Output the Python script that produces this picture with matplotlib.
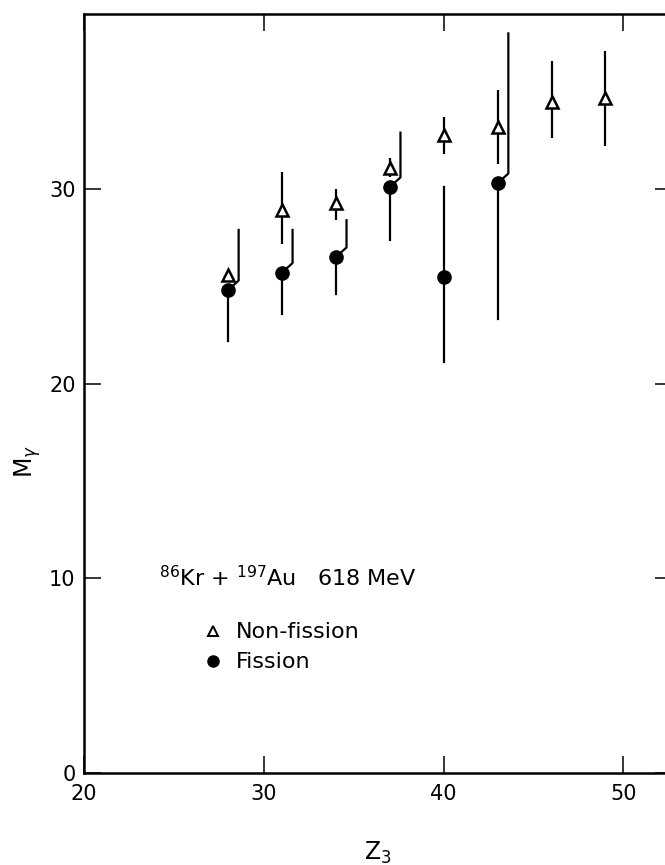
import matplotlib
matplotlib.use('Agg')
import matplotlib.pyplot as plt
from matplotlib.lines import Line2D

##--------------------##
## Data
##--------------------##

# Non-fission (open triangles)
z_nf = [28, 31, 34, 37, 40, 43, 46, 49]
nf_m = [25.6, 28.9, 29.3, 31.1, 32.8, 33.2, 34.5, 34.7]
nf_lo = [25.6, 27.2, 28.4, 30.6, 31.8, 31.3, 32.6, 32.2]
nf_hi = [25.6, 30.9, 30.0, 31.6, 33.7, 35.1, 36.6, 37.1]

# Fission (filled circles); upper bar drawn shifted right where flagged
z_fis = [28, 31, 34, 37, 40, 43]
fis_m = [24.8, 25.7, 26.5, 30.1, 25.5, 30.3]
fis_lo = [22.2, 23.6, 24.6, 27.4, 21.1, 23.3]
fis_hi = [27.9, 27.9, 28.4, 32.9, 30.1, 38.0]
fis_shift = [True, True, True, True, False, True]

x_ticks = [20, 30, 40, 50]
y_ticks = [0, 10, 20, 30]

##--------------------##
## Plot
##--------------------##
plt.rcParams['font.family'] = 'DejaVu Sans'
plt.rcParams['mathtext.fontset'] = 'dejavusans'

fig = plt.figure(figsize=(6.65, 8.65), dpi=100)
ax = fig.add_axes([0.1263, 0.1064, 0.8842, 0.8775])

lw = 1.6
dx, dy = 0.6, 0.5

# non-fission bars
nf_err = [[m - lo for m, lo in zip(nf_m, nf_lo)],
          [hi - m for m, hi in zip(nf_m, nf_hi)]]
ax.errorbar(z_nf, nf_m, yerr=nf_err, fmt='^', ms=9, mfc='white', mec='black',
            mew=1.8, ecolor='black', elinewidth=lw, capsize=0, zorder=4)

# fission bars: lower part straight, upper part straight or kinked
for z, m, lo, hi, sh in zip(z_fis, fis_m, fis_lo, fis_hi, fis_shift):
    ax.plot([z, z], [lo, m], color='black', lw=lw, zorder=2)
    if sh:
        ax.plot([z, z + dx, z + dx], [m, m + dy, hi], color='black', lw=lw,
                zorder=2)
    else:
        ax.plot([z, z], [m, hi], color='black', lw=lw, zorder=2)
ax.plot(z_fis, fis_m, 'o', ms=9.5, color='black', zorder=3)

ax.set_xlim(20, 52.7)
ax.set_ylim(0, 39)
ax.set_xticks(x_ticks)
ax.set_yticks(y_ticks)
ax.tick_params(direction='in', length=12, width=1.1, labelsize=15,
               top=True, right=True, pad=6)
ax.tick_params(axis='x', pad=8)
for s in ax.spines.values():
    s.set_linewidth(1.8)

ax.set_xlabel('Z$_3$', fontsize=17, labelpad=26)
ax.set_ylabel('M$_\\gamma$', fontsize=17)
ax.yaxis.set_label_coords(-0.07, 0.41)

ax.text(0.128, 0.257, '$^{86}$Kr + $^{197}$Au   618 MeV', transform=ax.transAxes,
        fontsize=16, va='center', ha='left')

handles = [
    Line2D([], [], ls='none', marker='^', ms=7, mfc='white', mec='black',
           mew=1.4, label='Non-fission'),
    Line2D([], [], ls='none', marker='o', ms=8, color='black', label='Fission'),
]
ax.legend(handles=handles, loc='upper left', bbox_to_anchor=(0.19, 0.21),
          frameon=False, fontsize=16, handlelength=0.8, handletextpad=0.6,
          labelspacing=0.45, borderaxespad=0)

plt.savefig('out.png', dpi=100)
